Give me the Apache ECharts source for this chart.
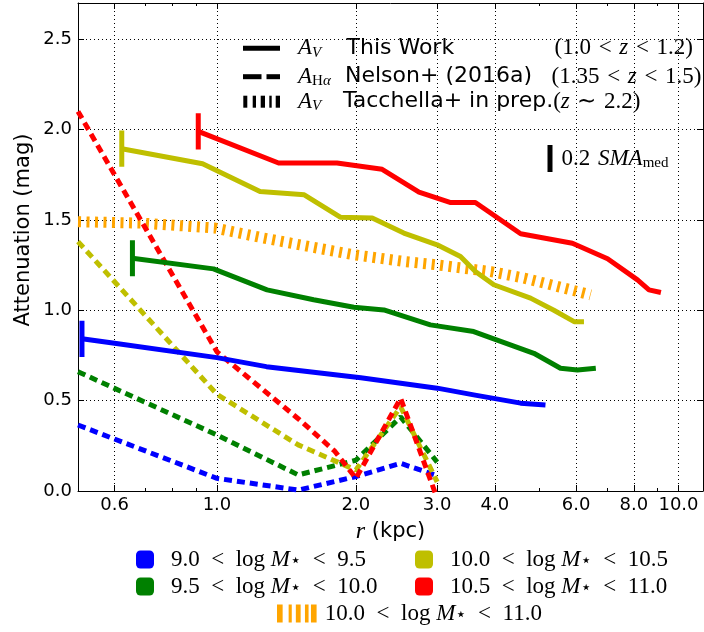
<!DOCTYPE html>
<html><head><meta charset="utf-8">
<script src="https://cdn.jsdelivr.net/npm/echarts@6/dist/echarts.min.js"></script>
<style>html,body{margin:0;padding:0;background:#fff}#c{width:704px;height:632px}</style>
</head><body><div id="c"></div>
<script>
// ---------------- data ----------------
const massLo = [9.0, 9.5, 10.0, 10.5];
const massHi = [9.5, 10.0, 10.5, 11.0];
const tacLo = 10.0, tacHi = 11.0;

// This Work (A_V), radius in kpc
const twBlueR   = [0.51, 0.60, 1.0, 1.28, 2.05, 3.0, 3.6, 4.55, 5.15];
const twBlueA   = [0.842, 0.818, 0.738, 0.688, 0.627, 0.569, 0.532, 0.486, 0.476];
const twGreenR  = [0.656, 0.983, 1.284, 1.62, 1.98, 2.30, 2.90, 3.60, 4.86, 5.55, 6.04, 6.62];
const twGreenA  = [1.288, 1.229, 1.113, 1.058, 1.017, 1.002, 0.919, 0.882, 0.762, 0.679, 0.670, 0.679];
const twYellowR = [0.622, 0.931, 1.24, 1.546, 1.85, 2.17, 2.54, 3.0, 3.37, 3.63, 3.98, 4.78, 5.37, 5.94, 6.24];
const twYellowA = [1.894, 1.811, 1.657, 1.639, 1.515, 1.51, 1.427, 1.362, 1.297, 1.214, 1.141, 1.067, 1.0, 0.937, 0.937];
const twRedR    = [0.911, 1.36, 1.82, 2.28, 2.74, 3.21, 3.63, 4.55, 5.89, 7.02, 8.15, 8.63, 9.16];
const twRedA    = [1.99, 1.815, 1.815, 1.78, 1.654, 1.596, 1.596, 1.423, 1.371, 1.285, 1.168, 1.113, 1.098];

// Half height of the 0.2 SMA_med marker bar (mag)
const smaBarHalf = 0.1;

// Nelson+ (2016a) A_Halpha
const nelsonR       = [0.5, 1.0, 1.5, 2.0, 2.5, 3.0];
const nelsonBlueA   = [0.365, 0.07, 0.005, 0.08, 0.153, 0.085];
const nelsonGreenA  = [0.66, 0.31, 0.089, 0.17, 0.41, 0.16];
const nelsonYellowA = [1.38, 0.535, 0.255, 0.116, 0.466, 0.05];
const nelsonRedR    = [0.5, 1.0, 1.5, 1.8, 2.0, 2.5, 3.0];
const nelsonRedA    = [2.10, 0.77, 0.40, 0.22, 0.07, 0.513, -0.04];

// Tacchella+ in prep.
const tacR = [0.5, 0.69, 0.99, 1.26, 1.65, 1.98, 2.54, 3.0, 3.92, 4.63, 6.04, 6.45];
const tacA = [1.49, 1.482, 1.455, 1.40, 1.344, 1.307, 1.27, 1.251, 1.214, 1.178, 1.104, 1.085];

// axes
const xMin = 0.5, xMax = 11.3;
const xMajorTicks = [0.6, 1, 2, 3, 4, 6, 8, 10];
const xMinorTicks = [0.7, 0.8, 0.9, 5, 7, 9];
const yMin = 0, yMax = 2.7;
const yTicks = [0, 0.5, 1.0, 1.5, 2.0, 2.5];

// ---------------- build ----------------
const binColors = ['#0000FF', '#008000', '#BFBF00', '#FF0000'];
const tacColor = '#FFA500';
const zip = (r, a) => r.map((v, i) => [v, a[i]]);
const binName = (lo, hi) => lo.toFixed(1) + ' < log M⋆ < ' + hi.toFixed(1);

const twSets = [[twBlueR, twBlueA], [twGreenR, twGreenA], [twYellowR, twYellowA], [twRedR, twRedA]];
const nelSets = [[nelsonR, nelsonBlueA], [nelsonR, nelsonGreenA], [nelsonR, nelsonYellowA], [nelsonRedR, nelsonRedA]];

const series = [];
series.push({
  name: binName(tacLo, tacHi), type: 'line', data: zip(tacR, tacA),
  symbol: 'none', silent: true, z: 2,
  itemStyle: { color: tacColor },
  lineStyle: { color: tacColor, width: 11, type: [3, 5.5], cap: 'butt' }
});
nelSets.forEach((s, i) => {
  series.push({
    name: 'Nelson ' + binName(massLo[i], massHi[i]), type: 'line', data: zip(s[0], s[1]),
    symbol: 'none', silent: true, z: 3,
    itemStyle: { color: binColors[i] },
    lineStyle: { color: binColors[i], width: 5, type: [8, 5], cap: 'butt' }
  });
});
twSets.forEach((s, i) => {
  series.push({
    name: binName(massLo[i], massHi[i]), type: 'line', data: zip(s[0], s[1]),
    symbol: 'none', silent: true, z: 4,
    itemStyle: { color: binColors[i] },
    lineStyle: { color: binColors[i], width: 5, cap: 'butt', join: 'round' }
  });
  const r0 = s[0][0], a0 = s[1][0];
  series.push({
    name: 'SMA bar ' + i, type: 'line', data: [[r0, a0 - smaBarHalf], [r0, a0 + smaBarHalf]],
    symbol: 'none', silent: true, z: 4,
    itemStyle: { color: binColors[i] },
    lineStyle: { color: binColors[i], width: 5, cap: 'butt' }
  });
});

const SERIF = 'Liberation Serif';
const SANS = 'DejaVu Sans';
const SP = '\u2002';   // wider math spacing around relations
const SP3 = '\u2004';
const legendRich = {
  n: { fontFamily: SERIF, fontSize: 23, lineHeight: 22, color: '#000', verticalAlign: 'middle' },
  i: { fontFamily: SERIF, fontStyle: 'italic', fontSize: 23, lineHeight: 22, color: '#000', verticalAlign: 'middle' },
  s: { fontFamily: SANS, fontSize: 18, lineHeight: 12, color: '#000', verticalAlign: 'bottom' }
};
const legendFmt = name => {
  const m = name.match(/^([\d.]+) < log M⋆ < ([\d.]+)$/);
  return '{n|' + m[1] + SP + '<' + SP + 'log }{i|M}{s|⋆}{n|' + SP + '<' + SP + m[2] + '}';
};
const legendPos = [[136, 559], [136, 586], [415, 559], [415, 586]];
const legends = massLo.map((lo, i) => ({
  data: [binName(lo, massHi[i])], left: legendPos[i][0], top: legendPos[i][1] - 11,
  icon: 'roundRect', itemWidth: 18, itemHeight: 18, padding: 0, selectedMode: false,
  itemStyle: { borderWidth: 0 }, formatter: legendFmt,
  textStyle: { padding: [0, 0, 0, 12], rich: legendRich }
}));
legends.push({
  data: [binName(tacLo, tacHi)], left: 277, top: 613 - 11,
  icon: 'path://M0,0h4.7v15h-4.7z M9.7,0h2.6v15h-2.6z M15.7,0h4v15h-4z M23.3,0h3v15h-3z M28.3,0h4.7v15h-4.7z',
  itemWidth: 40, itemHeight: 18, padding: 0, selectedMode: false,
  itemStyle: { borderWidth: 0, color: tacColor }, formatter: legendFmt,
  textStyle: { padding: [0, 0, 0, 3], rich: legendRich }
});

const dotted = { color: '#000', width: 1, type: [1, 3] };
const axisBlack = { color: '#000', width: 1 };
const tickFont = { fontFamily: SANS, fontSize: 18, color: '#000' };

const xBase = { type: 'log', logBase: 10, min: xMin, max: xMax, gridIndex: 0,
  minorTick: { show: false }, minorSplitLine: { show: false } };

const mathRich = {
  i: { fontFamily: SERIF, fontStyle: 'italic', fontSize: 23, color: '#000', verticalAlign: 'middle', lineHeight: 24 },
  n: { fontFamily: SERIF, fontSize: 23, color: '#000', verticalAlign: 'middle', lineHeight: 24 },
  t: { fontFamily: SANS, fontSize: 22, color: '#000', verticalAlign: 'middle', lineHeight: 24 },
  s: { fontFamily: SERIF, fontStyle: 'italic', fontSize: 15, color: '#000', verticalAlign: 'bottom', lineHeight: 13 },
  sr: { fontFamily: SERIF, fontSize: 15, color: '#000', verticalAlign: 'bottom', lineHeight: 13 }
};

const keyY = [48.3, 76.7, 101.7];
const graphicEls = [
  // line-style key
  { type: 'line', shape: { x1: 243, y1: keyY[0], x2: 280, y2: keyY[0] }, style: { stroke: '#000', lineWidth: 5 } },
  { type: 'line', shape: { x1: 243, y1: keyY[1], x2: 261.5, y2: keyY[1] }, style: { stroke: '#000', lineWidth: 5 } },
  { type: 'line', shape: { x1: 266.5, y1: keyY[1], x2: 280, y2: keyY[1] }, style: { stroke: '#000', lineWidth: 5 } },
  ...[[243.3, 4], [252.7, 3.3], [260.7, 4.3], [269.3, 2.4], [275.7, 4.3]].map(b => (
    { type: 'rect', shape: { x: b[0], y: keyY[2] - 6, width: b[1], height: 12 }, style: { fill: '#000' } })),
  { type: 'text', x: 298, y: keyY[0], style: { text: '{i|A}{s|V}', rich: mathRich, verticalAlign: 'middle', align: 'left' } },
  { type: 'text', x: 346.5, y: keyY[0], style: { text: 'This Work', fontFamily: SANS, fontSize: 22, fill: '#000', verticalAlign: 'middle', align: 'left' } },
  { type: 'text', x: 693, y: keyY[0], style: { text: '{n|(1.0' + SP3 + '<' + SP3 + '}{i|z}{n|' + SP3 + '<' + SP3 + '1.2)}', rich: mathRich, verticalAlign: 'middle', align: 'right' } },
  { type: 'text', x: 298, y: keyY[1], style: { text: '{i|A}{sr|H}{s|α}', rich: mathRich, verticalAlign: 'middle', align: 'left' } },
  { type: 'text', x: 345, y: keyY[1], style: { text: 'Nelson+ (2016a)', fontFamily: SANS, fontSize: 22, fill: '#000', verticalAlign: 'middle', align: 'left' } },
  { type: 'text', x: 701.5, y: keyY[1], style: { text: '{n|(1.35' + SP3 + '<' + SP3 + '}{i|z}{n|' + SP3 + '<' + SP3 + '1.5)}', rich: mathRich, verticalAlign: 'middle', align: 'right' } },
  { type: 'text', x: 298, y: keyY[2], style: { text: '{i|A}{s|V}', rich: mathRich, verticalAlign: 'middle', align: 'left' } },
  { type: 'text', x: 343, y: keyY[2], style: { text: '{t|Tacchella+ in prep.}{n|(}{i|z}{n|' + SP3 + '∼' + SP3 + '2.2)}', rich: mathRich, verticalAlign: 'middle', align: 'left' } },
  // 0.2 SMA_med key
  { type: 'rect', shape: { x: 547.5, y: 145, width: 5, height: 27 }, style: { fill: '#000' } },
  { type: 'text', x: 561.5, y: 159, style: { text: '{n|0.2' + SP3 + '}{i|SMA}{sr|med}', rich: mathRich, verticalAlign: 'middle', align: 'left' } },
  // y axis title
  { type: 'text', x: 24, y: 230, rotation: Math.PI / 2, style: { text: 'Attenuation (mag)', fontFamily: SANS, fontSize: 21, fill: '#000', align: 'center', verticalAlign: 'middle' } }
];

const option = {
  animation: false,
  backgroundColor: '#fff',
  textStyle: { fontFamily: SANS },
  grid: { left: 78, right: 1, top: 3, bottom: 141, containLabel: false, outerBoundsMode: 'none' },
  xAxis: [
    Object.assign({}, xBase, {
      position: 'bottom',
      axisLine: { show: true, onZero: false, lineStyle: axisBlack },
      axisTick: { show: true, inside: true, length: 6, customValues: xMajorTicks, lineStyle: axisBlack },
      axisLabel: Object.assign({ show: true, customValues: xMajorTicks, margin: 5, formatter: v => Number(v).toFixed(1) }, tickFont),
      splitLine: { show: true, lineStyle: dotted },
      name: '{i|r} (kpc)', nameLocation: 'middle', nameGap: 29,
      nameTextStyle: { fontFamily: SANS, fontSize: 21, color: '#000', lineHeight: 24,
        rich: { i: { fontFamily: SERIF, fontStyle: 'italic', fontSize: 24, lineHeight: 24, color: '#000' } } }
    }),
    Object.assign({}, xBase, {
      position: 'bottom',
      axisLine: { show: false, onZero: false },
      axisTick: { show: true, inside: true, length: 3, customValues: xMinorTicks, lineStyle: axisBlack },
      axisLabel: { show: false }, splitLine: { show: false }
    }),
    Object.assign({}, xBase, {
      position: 'top',
      axisLine: { show: true, onZero: false, lineStyle: axisBlack },
      axisTick: { show: true, inside: true, length: 6, customValues: xMajorTicks, lineStyle: axisBlack },
      axisLabel: { show: false }, splitLine: { show: false }
    }),
    Object.assign({}, xBase, {
      position: 'top',
      axisLine: { show: false, onZero: false },
      axisTick: { show: true, inside: true, length: 3, customValues: xMinorTicks, lineStyle: axisBlack },
      axisLabel: { show: false }, splitLine: { show: false }
    })
  ],
  yAxis: [
    {
      type: 'value', min: yMin, max: yMax, position: 'left',
      axisLine: { show: true, onZero: false, lineStyle: axisBlack },
      axisTick: { show: true, inside: true, length: 6, customValues: yTicks, lineStyle: axisBlack },
      axisLabel: Object.assign({ show: true, customValues: yTicks, margin: 6, formatter: v => Number(v).toFixed(1) }, tickFont),
      splitLine: { show: true, lineStyle: dotted }
    },
    {
      type: 'value', min: yMin, max: yMax, position: 'right',
      axisLine: { show: true, onZero: false, lineStyle: axisBlack },
      axisTick: { show: true, inside: true, length: 6, customValues: yTicks, lineStyle: axisBlack },
      axisLabel: { show: false }, splitLine: { show: false }
    }
  ],
  legend: legends,
  graphic: { elements: graphicEls },
  series: series
};

const chart = echarts.init(document.getElementById('c'), null, { renderer: 'canvas' });
chart.setOption(option);
</script>
</body></html>
